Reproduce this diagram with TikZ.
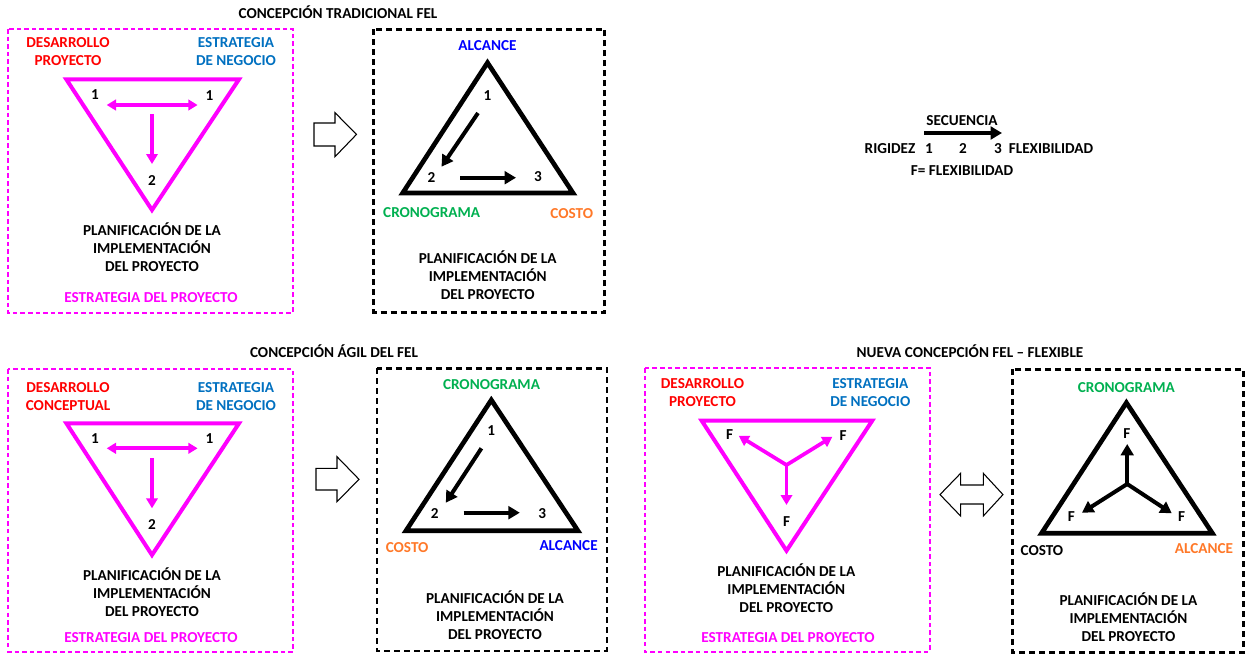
\documentclass[tikz,border=0pt]{standalone}
\usepackage{fontspec}
\setmainfont{Carlito}
\usetikzlibrary{arrows.meta}
\definecolor{fmag}{RGB}{255,0,255}
\definecolor{fred}{RGB}{255,0,0}
\definecolor{fblue}{RGB}{0,112,192}
\definecolor{fpure}{RGB}{0,0,255}
\definecolor{fgreen}{RGB}{0,176,80}
\definecolor{forange}{RGB}{255,120,40}
\begin{document}
% Multi-line labels are anchored at the baseline of their last line.
\begin{tikzpicture}[x=0.75pt,y=-0.75pt,
  txt/.style={font=\fontsize{11.4}{13.5}\selectfont\bfseries, inner sep=0pt, anchor=base, align=center},
  magbox/.style={draw=fmag, line width=1.5pt, dash pattern=on 3.4pt off 2.3pt},
  blkbox/.style={draw=black, line width=1.8pt, dash pattern=on 4.5pt off 3pt},
  magtri/.style={draw=fmag, line width=3pt, line join=miter},
  blktri/.style={draw=black, line width=3.5pt, line join=miter},
  magarr/.style={draw=fmag, line width=2.8pt, -{Triangle[length=7.5pt,width=8.5pt]}},
  magdbl/.style={draw=fmag, line width=2.8pt, {Triangle[length=7pt,width=8pt]}-{Triangle[length=7pt,width=8pt]}},
  blkarr/.style={draw=black, line width=3pt, -{Triangle[length=8.5pt,width=9.5pt]}},
  blockarrow/.style={draw=black, line width=0.8pt, fill=white, line join=miter},
]
\useasboundingbox (0,0) rectangle (1246,654);

% ---------- titles ----------
\node[txt] (title1) at (338,18) {CONCEPCIÓN TRADICIONAL FEL};
\node[txt] (title2) at (334,357) {CONCEPCIÓN ÁGIL DEL FEL};
\node[txt] (title3) at (970,357) {NUEVA CONCEPCIÓN FEL – FLEXIBLE};

% ---------- frames ----------
\draw[magbox] (8,29) rectangle (293,313);
\draw[blkbox] (373.5,29.3) rectangle (604.5,312.3);
\draw[magbox] (8,369.3) rectangle (293,651.5);
\draw[blkbox] (376.7,368.3) rectangle (606.7,650.7);
\draw[magbox] (644.7,368.3) rectangle (930,651.5);
\draw[blkbox] (1012.4,369.3) rectangle (1243.5,652.5);

% ---------- panel A: traditional, strategy ----------
\node[txt, text=fred] (a-dev) at (68,65.7) {DESARROLLO\\PROYECTO};
\node[txt, text=fblue] (a-neg) at (236,65.7) {ESTRATEGIA\\DE NEGOCIO};
\coordinate (a1) at (66.3,79.3);
\coordinate (a2) at (239,79.3);
\coordinate (a3) at (152,210);
\draw[magtri] (a1) -- (a2) -- (a3) -- cycle;
\node[txt] (a-n1) at (95,99.7) {1};
\node[txt] (a-n1b) at (209.5,100.4) {1};
\node[txt] (a-n2) at (152,185.7) {2};
\coordinate (a-hl) at (106.7,105);
\coordinate (a-hr) at (197.6,105);
\coordinate (a-vt) at (152,114);
\coordinate (a-vb) at (152,164);
\draw[magdbl] (a-hl) -- (a-hr);
\draw[magarr] (a-vt) -- (a-vb);
\node[txt] (a-plan) at (152,271.7) {PLANIFICACIÓN DE LA\\IMPLEMENTACIÓN\\DEL PROYECTO};
\node[txt, text=fmag] (a-est) at (151,302.7) {ESTRATEGIA DEL PROYECTO};

% ---------- panel B: traditional, project ----------
\node[txt, text=fpure] (b-top) at (487.5,50.4) {ALCANCE};
\coordinate (b1) at (487.5,62.7);
\coordinate (b2) at (402.7,193);
\coordinate (b3) at (573,193);
\draw[blktri] (b1) -- (b2) -- (b3) -- cycle;
\node[txt] (b-n1) at (487.5,100.4) {1};
\node[txt] (b-n2) at (431.5,182.4) {2};
\node[txt] (b-n3) at (538,181.4) {3};
\coordinate (b-ds) at (478,113);
\coordinate (b-de) at (441.5,166.7);
\coordinate (b-hs) at (460,177.7);
\coordinate (b-he) at (516,177.7);
\draw[blkarr] (b-ds) -- (b-de);
\draw[blkarr] (b-hs) -- (b-he);
\node[txt, text=fgreen] (b-left) at (431.7,217) {CRONOGRAMA};
\node[txt, text=forange] (b-right) at (571.8,218.7) {COSTO};
\node[txt] (b-plan) at (487.7,299.7) {PLANIFICACIÓN DE LA\\IMPLEMENTACIÓN\\DEL PROYECTO};

% block arrow between A and B
\draw[blockarrow] (314,123) -- (335,123) -- (335,112.7) -- (356.5,134.4) -- (335,156.7)
  -- (335,146) -- (314,146) -- cycle;

% ---------- legend ----------
\node[txt] (lg-seq) at (962,125.4) {SECUENCIA};
\coordinate (lg-s) at (924,133);
\coordinate (lg-e) at (1002,133);
\draw[blkarr] (lg-s) -- (lg-e);
\node[txt] (lg-rig) at (890,153.7) {RIGIDEZ};
\node[txt] (lg-1) at (929,153.7) {1};
\node[txt] (lg-2) at (963,153.7) {2};
\node[txt] (lg-3) at (998,153.7) {3};
\node[txt] (lg-flex) at (1051,153.7) {FLEXIBILIDAD};
\node[txt] (lg-f) at (962,175.7) {F= FLEXIBILIDAD};

% ---------- panel C: agile, strategy ----------
\node[txt, text=fred] (c-dev) at (68,410.4) {DESARROLLO\\CONCEPTUAL};
\node[txt, text=fblue] (c-neg) at (236,410.4) {ESTRATEGIA\\DE NEGOCIO};
\coordinate (c1) at (66.4,423.3);
\coordinate (c2) at (239,423.3);
\coordinate (c3) at (152,555);
\draw[magtri] (c1) -- (c2) -- (c3) -- cycle;
\node[txt] (c-n1) at (95,443.7) {1};
\node[txt] (c-n1b) at (209.5,443.7) {1};
\node[txt] (c-n2) at (152,529) {2};
\coordinate (c-hl) at (106.7,448.3);
\coordinate (c-hr) at (197.6,448.3);
\coordinate (c-vt) at (152,458.3);
\coordinate (c-vb) at (152,508.3);
\draw[magdbl] (c-hl) -- (c-hr);
\draw[magarr] (c-vt) -- (c-vb);
\node[txt] (c-plan) at (152,616.4) {PLANIFICACIÓN DE LA\\IMPLEMENTACIÓN\\DEL PROYECTO};
\node[txt, text=fmag] (c-est) at (151,642) {ESTRATEGIA DEL PROYECTO};

% ---------- panel D: agile, project ----------
\node[txt, text=fgreen] (d-top) at (491.5,389) {CRONOGRAMA};
\coordinate (d1) at (491.3,400);
\coordinate (d2) at (406,530.7);
\coordinate (d3) at (577.9,530.7);
\draw[blktri] (d1) -- (d2) -- (d3) -- cycle;
\node[txt] (d-n1) at (491.3,435.7) {1};
\node[txt] (d-n2) at (434.8,518) {2};
\node[txt] (d-n3) at (542.3,518) {3};
\coordinate (d-ds) at (481.4,448.3);
\coordinate (d-de) at (445.8,502.7);
\coordinate (d-hs) at (463.6,512.7);
\coordinate (d-he) at (519.8,512.7);
\draw[blkarr] (d-ds) -- (d-de);
\draw[blkarr] (d-hs) -- (d-he);
\node[txt, text=forange] (d-left) at (407.1,552) {COSTO};
\node[txt, text=fpure] (d-right) at (568.6,550.4) {ALCANCE};
\node[txt] (d-plan) at (495,639.7) {PLANIFICACIÓN DE LA\\IMPLEMENTACIÓN\\DEL PROYECTO};

% block arrow between C and D
\draw[blockarrow] (316,468.3) -- (337,468.3) -- (337,456.7) -- (359,479.3) -- (337,501.7)
  -- (337,490) -- (316,490) -- cycle;

% ---------- panel E: flexible, strategy ----------
\node[txt, text=fred] (e-dev) at (702.5,406) {DESARROLLO\\PROYECTO};
\node[txt, text=fblue] (e-neg) at (870.3,406) {ESTRATEGIA\\DE NEGOCIO};
\coordinate (e1) at (701.7,420.7);
\coordinate (e2) at (872.2,420.7);
\coordinate (e3) at (786.5,550.7);
\draw[magtri] (e1) -- (e2) -- (e3) -- cycle;
\coordinate (e-c) at (786.5,465);
\coordinate (e-ul) at (738.7,435.7);
\coordinate (e-ur) at (832.4,436.7);
\coordinate (e-dn) at (786.5,505);
\draw[magarr] (e-c) -- (e-ul);
\draw[magarr] (e-c) -- (e-ur);
\draw[magarr] (e-c) -- (e-dn);
\node[txt] (e-f1) at (729.6,439.7) {F};
\node[txt] (e-f2) at (843,440.7) {F};
\node[txt] (e-f3) at (786.5,526.4) {F};
\node[txt] (e-plan) at (786.3,612.4) {PLANIFICACIÓN DE LA\\IMPLEMENTACIÓN\\DEL PROYECTO};
\node[txt, text=fmag] (e-est) at (788,642) {ESTRATEGIA DEL PROYECTO};

% two-way block arrow between E and F
\draw[blockarrow] (940,494.6) -- (960.6,473.3) -- (960.6,485) -- (983.3,485) -- (983.3,473.3)
  -- (1003,494.6) -- (983.3,516) -- (983.3,504) -- (960.6,504) -- (960.6,516) -- cycle;

% ---------- panel F: flexible, project ----------
\node[txt, text=fgreen] (f-top) at (1126.4,392.4) {CRONOGRAMA};
\coordinate (f1) at (1126.4,402.7);
\coordinate (f2) at (1041.5,533.3);
\coordinate (f3) at (1212.4,533.3);
\draw[blktri] (f1) -- (f2) -- (f3) -- cycle;
\coordinate (f-c) at (1127.2,484);
\coordinate (f-up) at (1127.2,444);
\coordinate (f-dl) at (1082,512.7);
\coordinate (f-dr) at (1171.8,513.3);
\draw[blkarr] (f-c) -- (f-up);
\draw[blkarr] (f-c) -- (f-dl);
\draw[blkarr] (f-c) -- (f-dr);
\node[txt] (f-f1) at (1126.8,438.7) {F};
\node[txt] (f-f2) at (1071.4,521.4) {F};
\node[txt] (f-f3) at (1181.7,521.4) {F};
\node[txt] (f-left) at (1041.9,555.4) {COSTO};
\node[txt, text=forange] (f-right) at (1204,553.7) {ALCANCE};
\node[txt] (f-plan) at (1128.4,641.7) {PLANIFICACIÓN DE LA\\IMPLEMENTACIÓN\\DEL PROYECTO};
\end{tikzpicture}
\end{document}
